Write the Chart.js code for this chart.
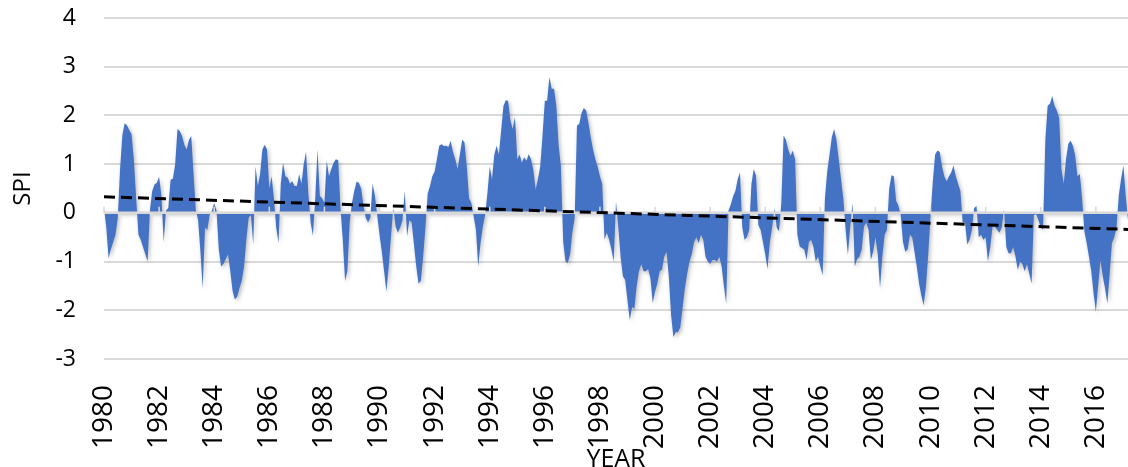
<!DOCTYPE html>
<html>
<head>
<meta charset="utf-8">
<title>SPI 1980–2017</title>
<script src="https://cdn.jsdelivr.net/npm/chart.js@4/dist/chart.umd.min.js"></script>
<style>
  html, body { margin: 0; padding: 0; background: #fff; }
  #wrap { width: 1128px; height: 467px; position: relative; }
</style>
</head>
<body>
<div id="wrap"><canvas id="c"></canvas></div>
<script>
// Monthly SPI series, January 1980 onward (one value per month)
const startYear = 1980;
const spi = [
  0.1, -0.3, -0.93, -0.75, -0.6, -0.45, -0.1, 0.9, 1.6, 1.84, 1.8, 1.7,
  1.62, 1.1, 0.3, -0.45, -0.55, -0.7, -0.85, -1.0, 0.05, 0.45, 0.58, 0.62,
  0.74, 0.35, -0.6, 0.05, 0.1, 0.68, 0.7, 1.0, 1.72, 1.68, 1.58, 1.4,
  1.3, 1.5, 1.58, 0.8, 0.05, -0.15, -0.8, -1.55, -0.3, -0.35, -0.05, 0.05,
  0.2, 0.05, -0.75, -1.1, -1.05, -0.95, -0.85, -1.2, -1.6, -1.78, -1.72, -1.55,
  -1.4, -1.1, -0.55, -0.1, -0.05, -0.65, 0.95, 0.55, 0.8, 1.3, 1.4, 1.3,
  0.5, 0.75, 0.3, -0.3, -0.62, 0.6, 1.03, 0.75, 0.72, 0.6, 0.65, 0.55,
  0.55, 0.79, 0.6, 1.0, 1.26, 0.4, -0.2, -0.47, 0.3, 1.3, 0.35, 0.3,
  0.2, 1.07, 0.75, 0.9, 1.03, 1.1, 1.08, 0.1, -0.55, -1.4, -1.2, -0.2,
  0.2, 0.45, 0.64, 0.62, 0.5, 0.15, -0.1, -0.2, -0.1, 0.6, 0.35, -0.05,
  -0.45, -0.8, -1.2, -1.62, -1.1, -0.48, 0.1, -0.28, -0.41, -0.3, -0.15, 0.45,
  -0.48, -0.15, -0.2, -0.65, -1.1, -1.45, -1.4, -0.9, -0.3, 0.4, 0.55, 0.75,
  0.85, 1.1, 1.38, 1.41, 1.37, 1.38, 1.35, 1.48, 1.25, 1.1, 0.9, 1.2,
  1.5, 1.45, 0.95, 0.3, 0.2, -0.07, -0.35, -1.1, -0.62, -0.28, -0.05, 0.4,
  0.95, 0.69, 1.2, 1.38, 1.2, 1.7, 2.2, 2.31, 2.3, 1.9, 1.72, 1.97,
  1.1, 1.2, 1.03, 1.14, 1.07, 1.21, 1.1, 0.88, 0.48, 0.7, 0.95, 1.59,
  2.3, 2.3, 2.79, 2.55, 2.55, 2.2, 1.4, 0.95, -0.6, -1.0, -1.03, -0.85,
  -0.4, -0.1, 1.79, 1.83, 2.05, 2.15, 2.1, 1.85, 1.55, 1.3, 1.1, 0.95,
  0.75, 0.6, -0.55, -0.41, -0.55, -0.75, -1.0, 0.24, -0.3, -0.9, -1.3, -1.38,
  -1.8, -2.2, -1.93, -1.97, -1.5, -1.2, -1.05, -1.2, -1.2, -1.15, -1.35, -1.85,
  -1.62, -1.45, -1.2, -1.17, -0.9, -0.8, -1.3, -2.1, -2.55, -2.45, -2.45, -2.35,
  -1.95, -1.55, -1.25, -1.0, -0.85, -0.6, -0.5, -0.62, -0.45, -0.55, -0.9, -1.0,
  -1.05, -0.97, -0.97, -1.0, -0.9, -1.1, -1.5, -1.86, 0.05, 0.17, 0.34, 0.45,
  0.69, 0.83, -0.3, -0.55, -0.5, -0.35, 0.6, 0.9, 0.76, -0.25, -0.35, -0.6,
  -0.85, -1.15, -0.6, -0.3, 0.1, -0.3, -0.38, 0.2, 1.59, 1.5, 1.3, 1.17,
  1.28, 1.1, -0.45, -0.69, -0.72, -0.75, -0.97, -0.6, -0.55, -0.7, -1.0, -0.9,
  -1.1, -1.28, 0.3, 0.85, 1.2, 1.55, 1.72, 1.5, 1.1, 0.7, 0.3, -0.34,
  -0.86, -0.3, 0.2, -1.1, -0.95, -0.9, -0.75, -0.28, -0.2, -0.35, -0.97, -0.8,
  -0.5, -0.85, -1.55, -0.9, -0.45, -0.35, 0.5, 0.77, 0.75, 0.25, 0.15, -0.05,
  -0.6, -0.8, -0.75, -0.45, -0.5, -0.8, -1.1, -1.45, -1.7, -1.9, -1.5, -0.85,
  -0.05, 0.65, 1.2, 1.28, 1.25, 0.95, 0.75, 0.65, 0.75, 0.83, 0.97, 0.75,
  0.6, 0.45, -0.2, -0.2, -0.65, -0.55, -0.35, 0.1, 0.14, -0.5, -0.45, -0.55,
  -0.5, -1.0, -0.7, -0.28, -0.28, -0.35, -0.41, -0.3, 0.07, -0.7, -0.83, -0.83,
  -0.7, -0.9, -1.17, -1.0, -1.05, -1.2, -1.05, -1.25, -1.45, -0.05, -0.03, -0.15,
  -0.3, -0.34, 1.5, 2.2, 2.24, 2.4, 2.2, 2.1, 1.95, 0.9, 0.6, 1.1,
  1.42, 1.48, 1.38, 1.17, 0.75, 0.8, 0.3, -0.38, -0.62, -0.9, -1.2, -1.65,
  -2.03, -1.5, -0.97, -1.3, -1.55, -1.86, -1.25, -0.62, -0.5, -0.3, 0.36, 0.7,
  0.97, 0.35, -0.15
];

// Linear trend: value at the first and the last month
const trendStart = 0.33;
const trendEnd = -0.34;

// Axis labels
const yearTicks = ['1980', '1982', '1984', '1986', '1988', '1990', '1992', '1994', '1996',
                   '1998', '2000', '2002', '2004', '2006', '2008', '2010', '2012', '2014', '2016'];
const monthsPerTick = 24;
const yMin = -3, yMax = 4, yStep = 1;

// Category labels, one per month ("1980-01", ...)
const months = spi.map((_, i) =>
  `${startYear + Math.floor(i / 12)}-${String(i % 12 + 1).padStart(2, '0')}`);

// Trend line drawn between its two end values
const trend = spi.map((_, i) =>
  i === 0 ? trendStart : (i === spi.length - 1 ? trendEnd : null));

const AREA_INDEX = 1;
const textColor = '#000';
const fontFamily = "'Open Sans', 'Noto Sans', sans-serif";

// Soft drop shadow under the area, then the horizontal axis (y = 0) with its tick marks on top
const zeroAxis = {
  id: 'zeroAxis',
  beforeDatasetsDraw(chart) {
    const ctx = chart.ctx;
    ctx.save();
    ctx.shadowColor = 'rgba(0,0,0,0.28)';
    ctx.shadowBlur = 4;
    ctx.shadowOffsetX = 1.5;
    ctx.shadowOffsetY = 2;
  },
  afterDatasetDraw(chart, args) {
    if (args.index !== AREA_INDEX) return;
    const ctx = chart.ctx;
    ctx.restore();
    const {left, right} = chart.chartArea;
    const xs = chart.scales.x, ys = chart.scales.y;
    const y0 = ys.getPixelForValue(0);
    ctx.save();
    ctx.strokeStyle = '#d9d9d9';
    ctx.lineWidth = 2.5;
    ctx.beginPath();
    ctx.moveTo(left, y0);
    ctx.lineTo(right, y0);
    ctx.stroke();
    ctx.lineWidth = 1.5;
    ctx.beginPath();
    for (let i = 0; i < spi.length; i += monthsPerTick) {
      const x = xs.getPixelForValue(i);
      ctx.moveTo(x, y0);
      ctx.lineTo(x, y0 - 6);
    }
    ctx.stroke();
    ctx.restore();
  }
};

// Keep the plot box fixed: no extra room reserved for edge labels
function noEdgePadding(scale) {
  scale.paddingTop = 0;
  scale.paddingBottom = 0;
  scale.paddingLeft = 0;
  scale.paddingRight = 0;
}

new Chart(document.getElementById('c'), {
  type: 'line',
  data: {
    labels: months,
    datasets: [
      {
        label: 'Trend',
        data: trend,
        borderColor: '#000',
        borderWidth: 3,
        borderDash: [11, 6],
        pointRadius: 0,
        spanGaps: true,
        fill: false,
        order: 1
      },
      {
        label: 'SPI',
        data: spi,
        borderWidth: 0,
        borderColor: '#4472C4',
        backgroundColor: '#4472C4',
        fill: 'origin',
        pointRadius: 0,
        tension: 0,
        order: 2
      }
    ]
  },
  options: {
    responsive: true,
    maintainAspectRatio: false,
    animation: false,
    layout: { padding: { top: 18, right: 0, bottom: 0, left: 0 } },
    plugins: {
      legend: { display: false },
      tooltip: { enabled: false }
    },
    scales: {
      x: {
        type: 'category',
        offset: false,
        grid: { display: false, drawTicks: false },
        border: { display: false },
        ticks: {
          autoSkip: false,
          minRotation: 90,
          maxRotation: 90,
          padding: 26,
          color: textColor,
          font: { family: fontFamily, size: 28 },
          callback: (value, index) =>
            index % monthsPerTick === 0 ? (yearTicks[index / monthsPerTick] ?? null) : null
        },
        title: {
          display: true,
          text: 'YEAR',
          color: textColor,
          font: { family: fontFamily, size: 25 },
          padding: { top: 0, bottom: -8 }
        },
        afterFit: (scale) => { scale.height = 108; noEdgePadding(scale); }
      },
      y: {
        min: yMin,
        max: yMax,
        grid: { color: '#d9d9d9', lineWidth: 2, drawTicks: false },
        border: { display: false },
        ticks: {
          stepSize: yStep,
          padding: 28,
          color: textColor,
          font: { family: fontFamily, size: 23 }
        },
        title: {
          display: true,
          text: 'SPI',
          color: textColor,
          font: { family: fontFamily, size: 24 },
          padding: { top: 9, bottom: 0 }
        },
        afterFit: (scale) => { scale.width = 104; noEdgePadding(scale); }
      }
    }
  },
  plugins: [zeroAxis]
});
</script>
</body>
</html>
